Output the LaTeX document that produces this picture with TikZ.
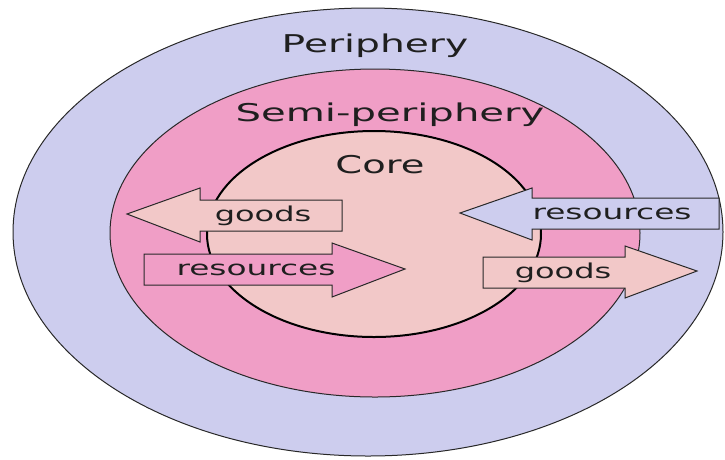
\documentclass[tikz,border=0pt]{standalone}
\usepackage{fontspec}
\setmainfont{DejaVu Sans}
\definecolor{peri}{RGB}{205,205,238}
\definecolor{semi}{RGB}{240,158,198}
\definecolor{corec}{RGB}{242,200,200}
\definecolor{edge}{RGB}{40,40,40}
\tikzset{
  bigtxt/.style={anchor=base, inner sep=0pt, font=\fontsize{24.5}{26}\selectfont, text=black!88},
  smalltxt/.style={anchor=base, inner sep=0pt, font=\fontsize{20.5}{22}\selectfont, text=black!88},
  arrowshape/.style={draw=edge, line width=1pt, line join=miter},
}
\begin{document}
\begin{tikzpicture}[x=1pt,y=-1pt]
\useasboundingbox[fill=white] (0,0) rectangle (725,459);
% rings
\draw[fill=peri, draw=edge, line width=1pt] (368,232) ellipse [x radius=355, y radius=224];
\draw[fill=semi, draw=edge, line width=1pt] (375,233) ellipse [x radius=265, y radius=164];
\draw[fill=corec, draw=black, line width=2pt] (374,234) ellipse [x radius=167, y radius=103];
% titles
\node[bigtxt] (tperi) at (375,52) {\scalebox{1.6}[1]{Periphery}};
\node[bigtxt] (tsemi) at (390,121) {\scalebox{1.64}[1]{Semi-periphery}};
\node[bigtxt] (tcore) at (380,173) {\scalebox{1.57}[1]{Core}};
% left: goods (pointing left)
\draw[arrowshape, fill=corec] (342,200) -- (200,200) -- (200,188) -- (127,214) -- (200,242) -- (200,231) -- (342,231) -- cycle;
\node[smalltxt] (lgoods) at (263,221) {\scalebox{1.56}[1]{goods}};
% left: resources (pointing right)
\draw[arrowshape, fill=semi] (144,254) -- (332,254) -- (332,243) -- (405,269) -- (332,297) -- (332,285) -- (144,285) -- cycle;
\node[smalltxt] (lres) at (256,275) {\scalebox{1.6}[1]{resources}};
% right: resources (pointing left)
\draw[arrowshape, fill=peri] (719,198) -- (532,198) -- (532,188) -- (460,213) -- (532,240) -- (532,229) -- (719,229) -- cycle;
\node[smalltxt] (rres) at (612,219) {\scalebox{1.6}[1]{resources}};
% right: goods (pointing right)
\draw[arrowshape, fill=corec] (483,257) -- (625,257) -- (625,246) -- (697,271) -- (625,298) -- (625,288) -- (483,288) -- cycle;
\node[smalltxt] (rgoods) at (563,278) {\scalebox{1.56}[1]{goods}};
\end{tikzpicture}
\end{document}
